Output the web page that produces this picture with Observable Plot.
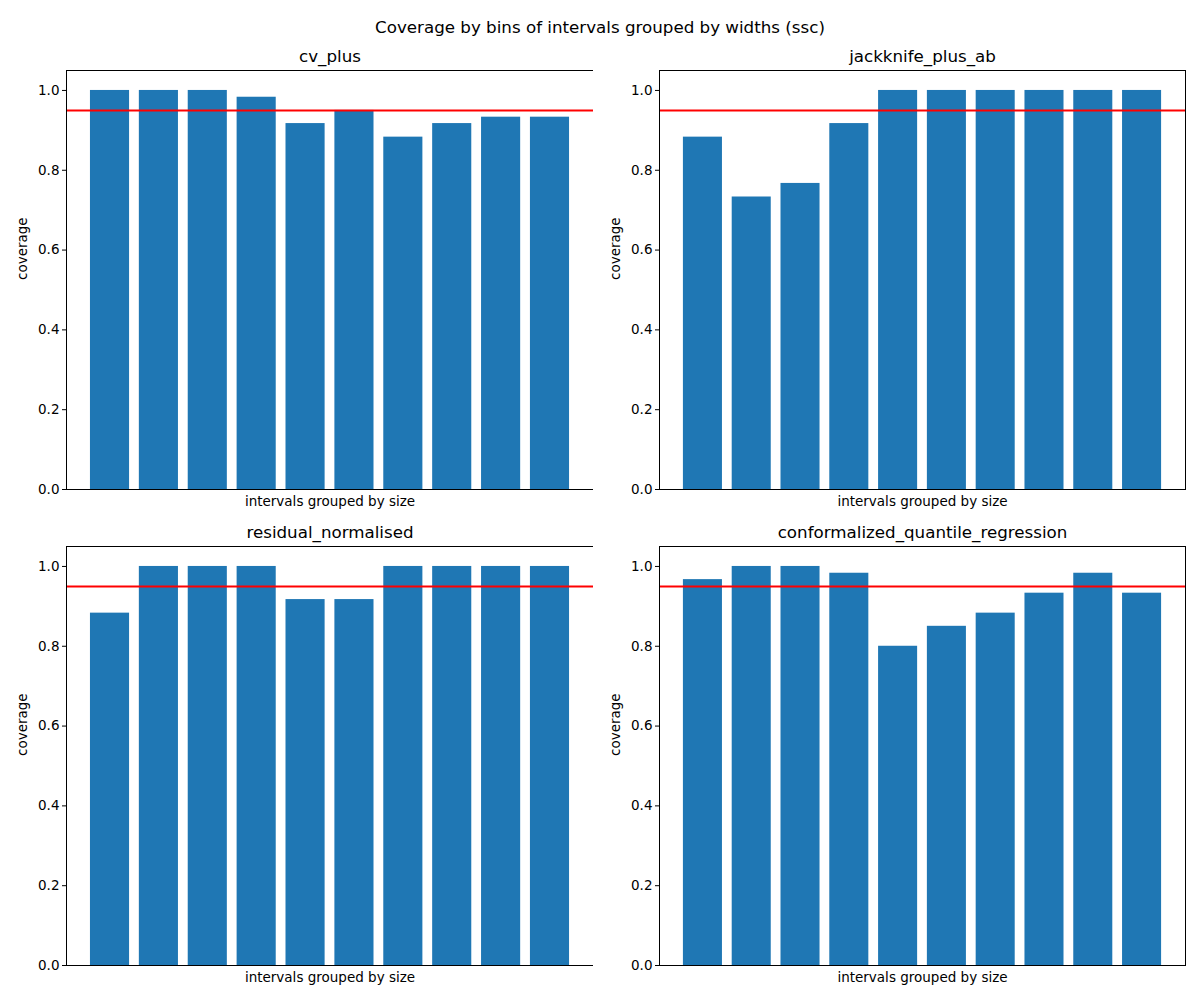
<!DOCTYPE html>
<html>
<head>
<meta charset="utf-8">
<script src="https://cdn.jsdelivr.net/npm/d3@7"></script>
<script src="https://cdn.jsdelivr.net/npm/@observablehq/plot@0.6"></script>
<style>
  html, body { margin: 0; padding: 0; background: #fff; }
  #root { position: relative; width: 1200px; height: 1000px; font-family: "DejaVu Sans", sans-serif; color: #000; }
  .ttl { position: absolute; transform: translate(-50%, -50%); white-space: nowrap; font-size: 16.7px; line-height: 1.4; }
  .panel { position: absolute; }
  .panel svg { font-family: "DejaVu Sans", sans-serif; overflow: visible; }
</style>
</head>
<body>
<div id="root"></div>
<script>
const suptitle = "Coverage by bins of intervals grouped by widths (ssc)";
const methods = ["cv_plus", "jackknife_plus_ab", "residual_normalised", "conformalized_quantile_regression"];
const bins = [0, 1, 2, 3, 4, 5, 6, 7, 8, 9];
const cvPlus = [1.0, 1.0, 1.0, 0.983, 0.917, 0.95, 0.883, 0.917, 0.933, 0.933];
const jackknifePlusAb = [0.883, 0.733, 0.767, 0.917, 1.0, 1.0, 1.0, 1.0, 1.0, 1.0];
const residualNormalised = [0.883, 1.0, 1.0, 1.0, 0.917, 0.917, 1.0, 1.0, 1.0, 1.0];
const cqr = [0.967, 1.0, 1.0, 0.983, 0.8, 0.85, 0.883, 0.933, 0.983, 0.933];
const target = 0.95;
const yTicks = [0, 0.2, 0.4, 0.6, 0.8, 1.0];
const xLabel = "intervals grouped by size";
const yLabel = "coverage";

const series = [cvPlus, jackknifePlusAb, residualNormalised, cqr];
const layout = [
  {left: 0, axL: 66, axW: 527, axT: 70},
  {left: 593, axL: 659, axW: 526, axT: 70},
  {left: 0, axL: 66, axW: 527, axT: 546},
  {left: 593, axL: 659, axW: 526, axT: 546}
];
const root = document.getElementById("root");

const sup = document.createElement("div");
sup.className = "ttl";
sup.style.left = "600px"; sup.style.top = "28px";
sup.textContent = suptitle;
root.appendChild(sup);

methods.forEach((m, k) => {
  const L = layout[k];
  const data = bins.map((b, i) => ({bin: b, coverage: series[k][i]}));
  const mL = 66, mR = 7, mT = 30, mB = 35, axH = 419;
  const plot = Plot.plot({
    width: mL + L.axW + mR,
    height: mT + axH + mB,
    marginLeft: mL, marginRight: mR, marginTop: mT, marginBottom: mB,
    style: {fontSize: "13.5px", fontFamily: "DejaVu Sans, sans-serif", background: "white", color: "black"},
    x: {type: "band", domain: bins, paddingInner: 0.2, paddingOuter: 0.49, round: false, axis: null},
    y: {domain: [0, 1.05], axis: null},
    marks: [
      Plot.barY(data, {x: "bin", y: "coverage", fill: "#1f77b4"}),
      Plot.ruleY([target], {stroke: "red", strokeWidth: 2}),
      Plot.frame({stroke: "black", strokeWidth: 1}),
      Plot.axisY({ticks: yTicks, tickFormat: d3.format(".1f"), tickSize: 4, tickPadding: 3, label: null, fontSize: 13.5}),
      Plot.text([m], {text: d => d, frameAnchor: "top", dy: -14, fontSize: 16.7, lineAnchor: "middle"}),
      Plot.text([xLabel], {text: d => d, frameAnchor: "bottom", dy: 12, fontSize: 13.5, lineAnchor: "middle"}),
      Plot.text([yLabel], {text: d => d, frameAnchor: "left", dx: -44, rotate: -90, fontSize: 13.5, lineAnchor: "middle"})
    ]
  });
  const wrap = document.createElement("div");
  wrap.className = "panel";
  wrap.style.left = L.left + "px";
  wrap.style.top = (L.axT - mT) + "px";
  wrap.appendChild(plot);
  root.appendChild(wrap);
});
</script>
</body>
</html>
